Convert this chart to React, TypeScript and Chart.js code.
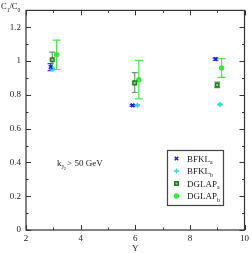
import React, { useEffect, useRef } from "react";
import { Chart, registerables } from "chart.js";
import { drawPoint } from "chart.js/helpers";

Chart.register(...registerables);

const seriesNames = ["BFKL", "BFKL", "DGLAP", "DGLAP"];
const seriesSubs = ["a", "b", "a", "b"];
const bfklAX = [2.9, 5.9, 8.94];
const bfklAY = [0.965, 0.738, 1.012];
const bfklALo = [0.943, 0.733, 1.005];
const bfklAHi = [0.985, 0.743, 1.018];
const bfklBX = [2.98, 6.08, 9.1];
const bfklBY = [0.955, 0.738, 0.743];
const bfklBLo = [0.947, 0.734, 0.739];
const bfklBHi = [0.963, 0.742, 0.747];
const dglapAX = [2.96, 5.98, 9.0];
const dglapAY = [1.008, 0.871, 0.859];
const dglapALo = [0.95, 0.814, 0.843];
const dglapAHi = [1.053, 0.932, 0.876];
const dglapBX = [3.12, 6.13, 9.16];
const dglapBY = [1.038, 0.89, 0.959];
const dglapBLo = [0.95, 0.776, 0.904];
const dglapBHi = [1.124, 1.004, 1.014];
const xMajorTicks = [2, 4, 6, 8, 10];
const xMinorTicks = [3, 5, 7, 9];
const yMajorTicks = [0, 0.2, 0.4, 0.6, 0.8, 1.0, 1.2];
const yMinorTicks = [0.1, 0.3, 0.5, 0.7, 0.9, 1.1];

const FONT = "'Liberation Serif', 'DejaVu Serif', serif";

const colors = ["#1a1aee", "#22dddd", "#1e7d1e", "#33ee33"];
const barColors = ["#3a3aee", "#55e5e5", "#6a9a6a", "#44ee44"];
const capHalf = [3, 2.5, 3, 4];
const radii = [2.5, 2.5, 2.5, 2];

export default function App() {
  const ref = useRef<HTMLCanvasElement | null>(null);
  useEffect(() => {
    document.body.style.margin = "0";
    const xs = [bfklAX, bfklBX, dglapAX, dglapBX];
    const ys = [bfklAY, bfklBY, dglapAY, dglapBY];
    const los = [bfklALo, bfklBLo, dglapALo, dglapBLo];
    const his = [bfklAHi, bfklBHi, dglapAHi, dglapBHi];
    const styles: any[] = ["crossRot", "cross", "rect", "circle"];
    const datasets = xs.map((x, i) => ({
      label: seriesNames[i] + seriesSubs[i],
      data: x.map((v, j) => ({ x: v, y: ys[i][j] })),
      pointStyle: styles[i],
      pointRadius: radii[i],
      borderColor: colors[i],
      backgroundColor: i === 2 ? "#8fcf8f" : colors[i],
      pointBorderWidth: 1.5,
      showLine: false,
    }));

    const drawPlugin = {
      id: "deco",
      beforeDatasetsDraw(chart: any) {
        const ctx = chart.ctx;
        const xS = chart.scales.x;
        const yS = chart.scales.y;
        ctx.save();
        for (let i = 0; i < 4; i++) {
          ctx.strokeStyle = barColors[i];
          ctx.lineWidth = 1.2;
          for (let j = 0; j < xs[i].length; j++) {
            const px = xS.getPixelForValue(xs[i][j]);
            const pl = yS.getPixelForValue(los[i][j]);
            const ph = yS.getPixelForValue(his[i][j]);
            const c = capHalf[i];
            ctx.beginPath();
            ctx.moveTo(px, pl);
            ctx.lineTo(px, ph);
            ctx.moveTo(px - c, pl);
            ctx.lineTo(px + c, pl);
            ctx.moveTo(px - c, ph);
            ctx.lineTo(px + c, ph);
            ctx.stroke();
          }
        }
        ctx.restore();
      },
      afterDraw(chart: any) {
        const ctx = chart.ctx;
        const a = chart.chartArea;
        const xS = chart.scales.x;
        const yS = chart.scales.y;
        ctx.save();
        ctx.strokeStyle = "#333";
        ctx.lineWidth = 1.2;
        ctx.strokeRect(a.left, a.top, a.right - a.left, a.bottom - a.top);
        ctx.lineWidth = 1;
        ctx.beginPath();
        const tickX = (vals: number[], len: number) => {
          vals.forEach((v) => {
            const p = Math.round(xS.getPixelForValue(v)) + 0.5;
            ctx.moveTo(p, a.bottom);
            ctx.lineTo(p, a.bottom - len);
            ctx.moveTo(p, a.top);
            ctx.lineTo(p, a.top + len);
          });
        };
        const tickY = (vals: number[], len: number) => {
          vals.forEach((v) => {
            const p = Math.round(yS.getPixelForValue(v)) + 0.5;
            ctx.moveTo(a.left, p);
            ctx.lineTo(a.left + len, p);
            ctx.moveTo(a.right, p);
            ctx.lineTo(a.right - len, p);
          });
        };
        tickX(xMajorTicks, 5);
        tickX(xMinorTicks, 2.5);
        tickY(yMajorTicks, 5);
        tickY(yMinorTicks, 2.5);
        ctx.stroke();

        ctx.fillStyle = "#222";
        ctx.textBaseline = "alphabetic";
        const sub = (x: number, y: number, main: string, s: string, size = 9) => {
          ctx.font = `${size}px ${FONT}`;
          ctx.fillText(main, x, y);
          const w = ctx.measureText(main).width;
          ctx.font = `${size * 0.65}px ${FONT}`;
          ctx.fillText(s, x + w, y + 2.5);
          return x + w + ctx.measureText(s).width;
        };
        let x0 = sub(1, 9, "C", "1", 8.5);
        ctx.font = `8.5px ${FONT}`;
        ctx.fillText("/", x0, 9);
        x0 += ctx.measureText("/").width;
        sub(x0, 9, "C", "0", 8.5);

        ctx.font = `9px ${FONT}`;
        ctx.fillText("k", 57, 166);
        let kx = 57 + ctx.measureText("k").width;
        ctx.font = `6px ${FONT}`;
        ctx.fillText("J", kx, 168.5);
        kx += ctx.measureText("J").width;
        ctx.font = `4.5px ${FONT}`;
        ctx.fillText("2", kx, 170);
        kx += ctx.measureText("2").width + 1;
        ctx.font = `9px ${FONT}`;
        ctx.fillText("> 50 GeV", kx, 166);

        const lx = 167.5, ly = 150.5, lw = 56, lh = 55;
        ctx.fillStyle = "#fff";
        ctx.fillRect(lx, ly, lw, lh);
        ctx.strokeStyle = "#444";
        ctx.lineWidth = 1.2;
        ctx.strokeRect(lx, ly, lw, lh);
        const rows = [158.5, 171, 183.5, 196];
        rows.forEach((ry, i) => {
          const meta = chart.getDatasetMeta(i);
          const el = meta.data[0];
          const opts = el.options;
          ctx.save();
          ctx.strokeStyle = opts.borderColor;
          ctx.fillStyle = opts.backgroundColor;
          ctx.lineWidth = opts.borderWidth;
          drawPoint(ctx, { radius: opts.radius, pointStyle: opts.pointStyle, rotation: 0, borderWidth: opts.borderWidth } as any, 176.5, ry);
          ctx.restore();
          ctx.fillStyle = "#222";
          sub(187, ry + 3, seriesNames[i], seriesSubs[i], 9);
        });
        ctx.restore();
      },
    };

    const chart = new Chart(ref.current as HTMLCanvasElement, {
      type: "scatter",
      data: { datasets },
      options: {
        animation: false,
        responsive: false,
        layout: { padding: { top: 9, right: 7, left: 0, bottom: 0 } },
        plugins: { legend: { display: false }, tooltip: { enabled: false } },
        scales: {
          x: {
            type: "linear",
            min: 2,
            max: 10,
            afterFit: (s: any) => { s.height = 23; },
            grid: { display: false, drawTicks: false },
            border: { display: false },
            ticks: {
              stepSize: 2,
              font: { family: FONT, size: 9 },
              color: "#222",
              padding: 3,
              maxRotation: 0,
              callback: (v: any) => (xMajorTicks.includes(Number(v)) ? String(v) : ""),
            },
            title: {
              display: true,
              text: "Y",
              font: { family: FONT, size: 9, lineHeight: 0.9 },
              color: "#222",
              padding: { top: 0, bottom: 0 },
            },
          },
          y: {
            type: "linear",
            min: 0,
            max: 1.3,
            afterFit: (s: any) => { s.width = 26; },
            grid: { display: false, drawTicks: false },
            border: { display: false },
            afterBuildTicks: (s: any) => { s.ticks = yMajorTicks.map((v) => ({ value: v })); },
            ticks: {
              font: { family: FONT, size: 9 },
              color: "#222",
              padding: 5,
              callback: (v: any) => String(Math.round(Number(v) * 10) / 10),
            },
          },
        },
      },
      plugins: [drawPlugin],
    } as any);
    return () => chart.destroy();
  }, []);
  return <canvas ref={ref} width={252} height={253} style={{ display: "block", width: 252, height: 253 }} />;
}
